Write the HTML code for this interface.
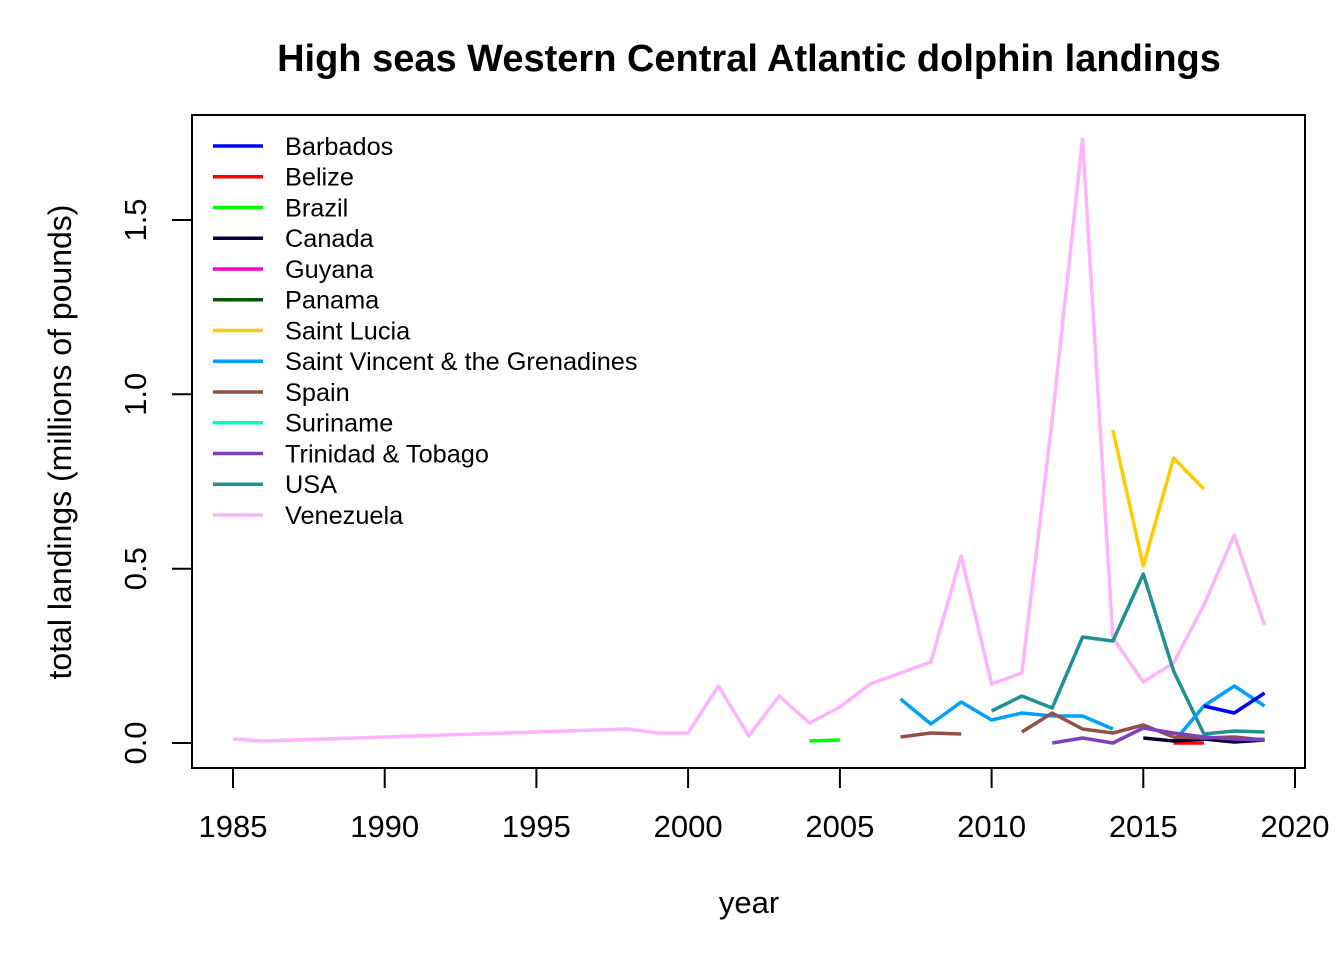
<!DOCTYPE html>
<html><head><meta charset="utf-8"><style>html,body{margin:0;padding:0;background:#fff}</style></head>
<body>
<svg width="1344" height="960" xmlns="http://www.w3.org/2000/svg" font-family="Liberation Sans, Arial, sans-serif">
<rect width="1344" height="960" fill="#fff"/>
<text x="749" y="71" font-size="38" font-weight="bold" text-anchor="middle">High seas Western Central Atlantic dolphin landings</text>
<rect x="192" y="115" width="1113" height="653" fill="none" stroke="#000" stroke-width="2"/>
<g stroke="#000" stroke-width="2">
<line x1="233" y1="768" x2="1295" y2="768"/>
<line x1="233" y1="768" x2="233" y2="788"/><line x1="384.7" y1="768" x2="384.7" y2="788"/><line x1="536.4" y1="768" x2="536.4" y2="788"/><line x1="688.1" y1="768" x2="688.1" y2="788"/><line x1="839.9" y1="768" x2="839.9" y2="788"/><line x1="991.6" y1="768" x2="991.6" y2="788"/><line x1="1143.3" y1="768" x2="1143.3" y2="788"/><line x1="1295" y1="768" x2="1295" y2="788"/>
<line x1="192" y1="220" x2="192" y2="743"/>
<line x1="172" y1="743" x2="192" y2="743"/><line x1="172" y1="568.7" x2="192" y2="568.7"/><line x1="172" y1="394.3" x2="192" y2="394.3"/><line x1="172" y1="220" x2="192" y2="220"/>
</g>
<g font-size="31" text-anchor="middle">
<text x="233" y="837">1985</text><text x="384.7" y="837">1990</text><text x="536.4" y="837">1995</text><text x="688.1" y="837">2000</text><text x="839.9" y="837">2005</text><text x="991.6" y="837">2010</text><text x="1143.3" y="837">2015</text><text x="1295" y="837">2020</text>
<text x="749" y="913">year</text>
</g>
<g font-size="31" text-anchor="middle">
<text transform="translate(146,743) rotate(-90)">0.0</text>
<text transform="translate(146,568.7) rotate(-90)">0.5</text>
<text transform="translate(146,394.3) rotate(-90)">1.0</text>
<text transform="translate(146,220) rotate(-90)">1.5</text>
<text font-size="32" transform="translate(71,442) rotate(-90)">total landings (millions of pounds)</text>
</g>
<g fill="none" stroke-width="3.5" stroke-linejoin="round">
<polyline stroke="#FFB3FF" points="233,739 263.3,741 627.5,729 657.8,733 688.1,733 718.5,686 748.8,736 779.2,696 809.5,723 839.9,707 870.2,684 900.5,673 930.9,662 961.2,556 991.6,684 1021.9,673 1052.2,420 1082.6,139 1112.9,638 1143.3,682 1173.6,663 1203.9,605 1234.3,535 1264.6,625"/>
<polyline stroke="#FFCC00" points="1112.9,430 1143.3,566 1173.6,458 1203.9,489"/>
<polyline stroke="#209090" points="991.6,711 1021.9,696 1052.2,708 1082.6,637 1112.9,641 1143.3,574 1173.6,671 1203.9,734 1234.3,731 1264.6,732"/>
<polyline stroke="#00A0FF" points="900.5,699 930.9,724 961.2,702 991.6,720 1021.9,713 1052.2,716 1082.6,716 1112.9,729"/>
<polyline stroke="#00A0FF" points="1173.6,742 1203.9,706 1234.3,686 1264.6,706"/>
<polyline stroke="#944F47" points="900.5,737 930.9,733 961.2,734"/>
<polyline stroke="#0000FF" points="1203.9,706 1234.3,713 1264.6,693"/>
<polyline stroke="#FF0000" points="1173.6,743 1203.9,743"/>
<polyline stroke="#00FF00" points="809.5,741 839.9,740"/>
<polyline stroke="#00FF00" points="1234.3,740 1264.6,739"/>
<polyline stroke="#000033" points="1143.3,738 1173.6,741 1203.9,739 1234.3,742 1264.6,740"/>
<polyline stroke="#944F47" points="1021.9,732 1052.2,713 1082.6,729 1112.9,733 1143.3,725 1173.6,737 1203.9,738 1234.3,737 1264.6,740"/>
<polyline stroke="#7F3FBF" points="1052.2,743 1082.6,738 1112.9,743 1143.3,728 1173.6,733 1203.9,737 1234.3,739 1264.6,740"/>
</g>
<g stroke-width="3.5">
<line x1="213" x2="263" y1="146" y2="146" stroke="#0000FF"/>
<line x1="213" x2="263" y1="176.7" y2="176.7" stroke="#FF0000"/>
<line x1="213" x2="263" y1="207.5" y2="207.5" stroke="#00FF00"/>
<line x1="213" x2="263" y1="238.2" y2="238.2" stroke="#000033"/>
<line x1="213" x2="263" y1="269" y2="269" stroke="#FF00CC"/>
<line x1="213" x2="263" y1="299.7" y2="299.7" stroke="#005900"/>
<line x1="213" x2="263" y1="330.5" y2="330.5" stroke="#FFCC00"/>
<line x1="213" x2="263" y1="361.2" y2="361.2" stroke="#00A0FF"/>
<line x1="213" x2="263" y1="392" y2="392" stroke="#944F47"/>
<line x1="213" x2="263" y1="422.7" y2="422.7" stroke="#00FFC0"/>
<line x1="213" x2="263" y1="453.5" y2="453.5" stroke="#7F3FBF"/>
<line x1="213" x2="263" y1="484.2" y2="484.2" stroke="#209090"/>
<line x1="213" x2="263" y1="515" y2="515" stroke="#FFB3FF"/>
</g>
<g font-size="25.3">
<text x="285" y="155">Barbados</text>
<text x="285" y="185.7">Belize</text>
<text x="285" y="216.5">Brazil</text>
<text x="285" y="247.2">Canada</text>
<text x="285" y="278">Guyana</text>
<text x="285" y="308.7">Panama</text>
<text x="285" y="339.5">Saint Lucia</text>
<text x="285" y="370.2">Saint Vincent &amp; the Grenadines</text>
<text x="285" y="401">Spain</text>
<text x="285" y="431.7">Suriname</text>
<text x="285" y="462.5">Trinidad &amp; Tobago</text>
<text x="285" y="493.2">USA</text>
<text x="285" y="524">Venezuela</text>
</g>
</svg>
</body></html>
